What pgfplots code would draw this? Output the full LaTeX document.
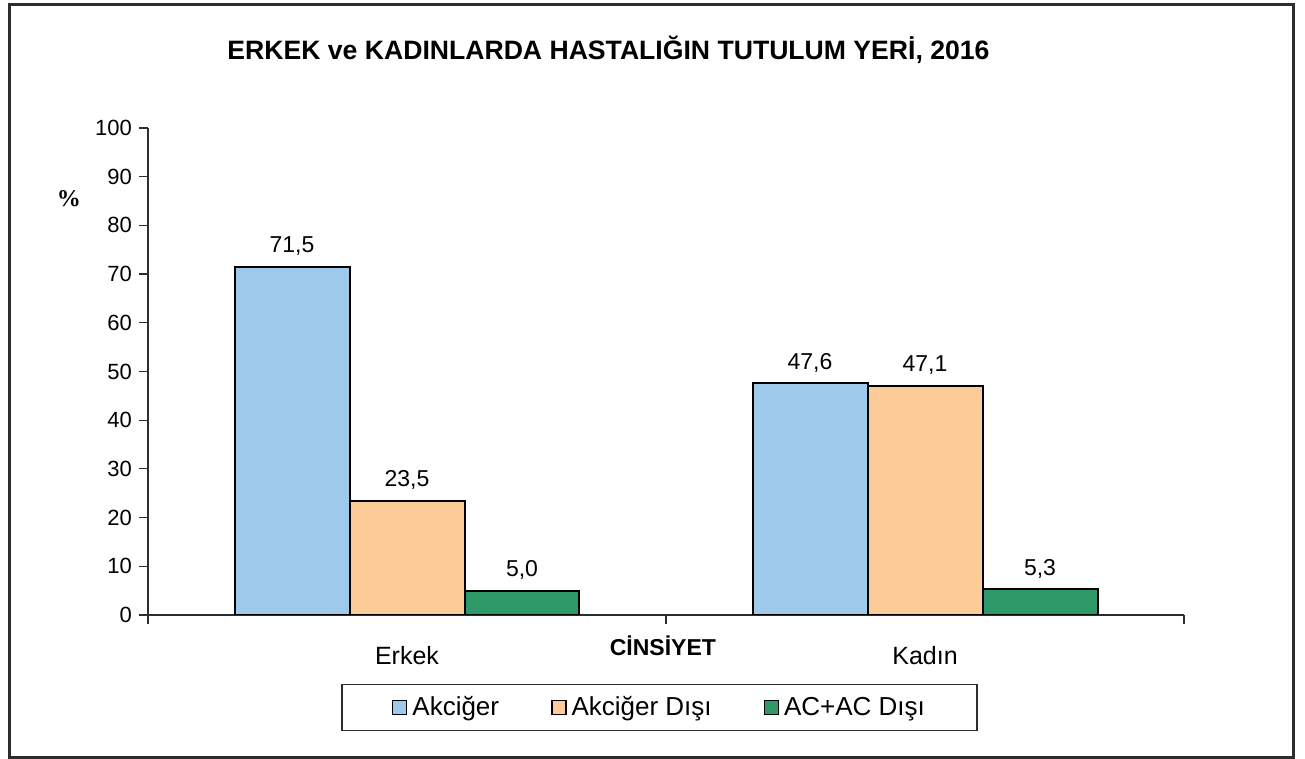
\documentclass[border=0pt]{standalone}
\usepackage{pgfplots}
\pgfplotsset{compat=1.18}
\usepackage{fontspec}
\setmainfont{Liberation Sans}
\newfontfamily\serifbf{Liberation Serif}

\definecolor{akc}{RGB}{159,201,235}
\definecolor{akcdisi}{RGB}{253,203,152}
\definecolor{acac}{RGB}{47,152,104}
\definecolor{frame}{RGB}{45,45,45}

% 1 px of the reference = 0.5pt; axis box corner (148,615) px = (0,0)
\begin{document}
\begin{tikzpicture}
\path (-74pt,307.5pt) rectangle (578.5pt,-72pt);
\begin{axis}[
  at={(0pt,0pt)}, anchor=south west,
  scale only axis,
  width=518pt, height=243.5pt,
  xmin=-0.5, xmax=1.5,
  ymin=0, ymax=100,
  ybar=0pt, bar width=0.222,
  axis x line=bottom, axis y line=left,
  axis line style={-, draw=frame, line width=0.6pt},
  tick align=outside,
  major tick length=4.5pt,
  tick style={draw=frame, line width=0.6pt},
  ytick={0,10,...,100},
  xtick={-0.5,0.5,1.5},
  xticklabels={},
  extra x ticks={0,1},
  extra x tick labels={Erkek,Kad\i n},
  extra x tick style={major tick length=0pt,
    tick label style={font=\fontsize{12.5}{14}\selectfont, anchor=base, yshift=-24.5pt}},
  /pgf/number format/assume math mode=true,
  tick label style={font=\fontsize{11}{13}\selectfont},
  xlabel={C\.INS\.IYET},
  xlabel style={at={(axis description cs:0.497,0)}, anchor=base, yshift=-20pt,
    font=\bfseries\fontsize{11.5}{13}\selectfont},
  ylabel={\%},
  ylabel style={at={(axis description cs:-0.0763,0.854)}, rotate=-90, anchor=center,
    font=\serifbf\bfseries\fontsize{12}{14}\selectfont},
  legend columns=3,
  legend style={at={(axis description cs:0.4937,-0.19)}, anchor=center,
    draw=frame, line width=0.6pt,
    inner xsep=25pt, inner ysep=4pt,
    font=\fontsize{13}{15}\selectfont,
    nodes={inner xsep=1pt},
    /tikz/every odd column/.append style={column sep=1.5pt},
    /tikz/every even column/.append style={column sep=25pt}},
  nodes near coords,
  every node near coord/.append style={font=\fontsize{11.5}{13}\selectfont, anchor=base, yshift=7pt,
    /pgf/number format/.cd, fixed, fixed zerofill, precision=1, use comma, assume math mode=true},
]
\addplot[fill=akc, draw=black, line width=1pt,
  legend image code/.code={\draw[fill=akc, draw=black, line width=0.7pt] (0pt,-3.5pt) rectangle (7pt,3.5pt);}]
  coordinates {(0,71.5) (1,47.6)};
\addlegendentry{Akci\u ger}
\addplot[fill=akcdisi, draw=black, line width=1pt,
  legend image code/.code={\draw[fill=akcdisi, draw=black, line width=0.7pt] (0pt,-3.5pt) rectangle (7pt,3.5pt);}]
  coordinates {(0,23.5) (1,47.1)};
\addlegendentry{Akci\u ger D\i \c s\i}
\addplot[fill=acac, draw=black, line width=1pt,
  legend image code/.code={\draw[fill=acac, draw=black, line width=0.7pt] (0pt,-3.5pt) rectangle (7pt,3.5pt);}]
  coordinates {(0,5.0) (1,5.3)};
\addlegendentry{AC+AC D\i \c s\i}
\end{axis}
\node[anchor=base, font=\bfseries\fontsize{13.3}{15}\selectfont] at (230.25pt,277.5pt)
  {ERKEK ve KADINLARDA HASTALIĞIN TUTULUM YERİ, 2016};
\draw[frame, line width=1.5pt] (-69pt,305pt) rectangle (572.5pt,-71pt);
\end{tikzpicture}
\end{document}
